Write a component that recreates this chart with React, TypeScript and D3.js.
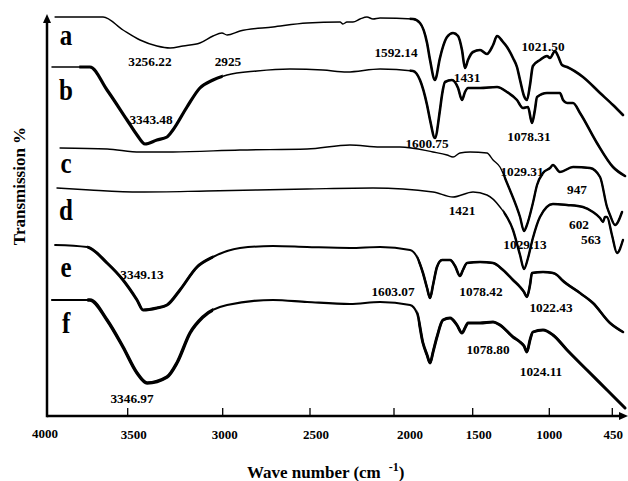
import React from 'react';
import * as d3 from 'd3';

// ---- axis (wavenumber, cm^-1) ----
const xTickValues = [4000, 3500, 3000, 2500, 2000, 1500, 1000, 450];
const xTickLabels = ['4000', '3500', '3000', '2500', '2000', '1500', '1000', '450'];

// ---- spectra: [wavenumber, transmission (a.u., stacked)] ----
const specA: [number, number][] = [[3950,399],[3653,399],[3529,386],[3435,376],[3346,370],[3277,368],[3209,370],[3120,373],[3051,380],[3004,383],[2975,381],[2901,385],[2712,389],[2517,393],[2321,394],[2304,392],[2280,394],[2244,394],[2202,397],[2161,399],[2125,397],[2083,398],[1879,397],[1835,393],[1790,373],[1771,356],[1740,336],[1708,358],[1695,366],[1663,379],[1625,383],[1593,380],[1568,366],[1549,348],[1530,356],[1498,364],[1452,366],[1407,362],[1367,371],[1341,380],[1302,374],[1276,369],[1237,358],[1211,349],[1191,336],[1165,320],[1146,316],[1126,331],[1107,350],[1061,356],[1015,360],[994,358],[950,365],[924,360],[889,351],[845,349],[706,339],[557,323],[444,311],[357,301]];
const specB: [number, number][] = [[3969,349],[3734,349],[3628,326],[3504,296],[3451,281],[3409,272],[3346,276],[3293,279],[3262,286],[3188,309],[3120,328],[3051,336],[2975,341],[2804,345],[2615,347],[2423,346],[2280,344],[2083,347],[1879,345],[1835,336],[1790,311],[1771,296],[1740,278],[1708,306],[1695,321],[1676,334],[1632,336],[1593,328],[1568,316],[1549,324],[1530,328],[1452,328],[1341,329],[1276,324],[1211,316],[1172,308],[1139,309],[1113,293],[1094,306],[1080,319],[1015,323],[907,323],[880,316],[845,313],[793,313],[732,303],[584,273],[444,249],[339,240]];
const specC: [number, number][] = [[3919,268],[3628,267],[3435,264],[3262,264],[2901,266],[2517,267],[2262,271],[2083,269],[1962,269],[1752,264],[1663,261],[1625,259],[1581,263],[1517,264],[1407,263],[1367,256],[1322,249],[1276,233],[1257,226],[1191,199],[1165,185],[1146,191],[1107,213],[1080,231],[1041,243],[994,248],[968,251],[907,244],[793,249],[645,248],[557,239],[496,209],[470,201],[426,191],[365,204]];
const specD: [number, number][] = [[3938,228],[3734,226],[3435,224],[3083,225],[2517,227],[2125,228],[1752,224],[1625,219],[1498,224],[1407,221],[1322,209],[1237,186],[1191,161],[1165,147],[1139,158],[1107,178],[1061,199],[968,212],[845,211],[706,209],[619,204],[557,198],[531,194],[514,199],[496,199],[453,181],[409,163],[357,176]];
const specE: [number, number][] = [[3950,171],[3752,169],[3628,153],[3529,136],[3451,116],[3419,106],[3346,108],[3293,111],[3225,126],[3135,149],[3051,159],[2901,168],[2712,170],[2517,169],[2262,168],[2083,169],[1898,166],[1854,159],[1816,143],[1790,128],[1771,118],[1752,131],[1727,149],[1695,156],[1644,156],[1612,150],[1581,140],[1562,146],[1536,153],[1452,154],[1367,153],[1302,146],[1237,136],[1191,129],[1165,124],[1146,119],[1126,131],[1113,143],[1041,144],[968,143],[933,141],[889,136],[732,123],[619,113],[470,93],[357,84]];
const specF: [number, number][] = [[3969,116],[3734,116],[3628,96],[3529,69],[3451,43],[3398,33],[3293,39],[3241,53],[3172,83],[3104,99],[2975,111],[2712,116],[2517,114],[2262,112],[2083,114],[1898,111],[1854,103],[1816,73],[1790,61],[1771,53],[1752,64],[1727,79],[1689,96],[1644,98],[1600,91],[1568,83],[1549,88],[1530,93],[1452,93],[1367,94],[1322,91],[1237,79],[1191,74],[1165,70],[1146,64],[1126,76],[1107,84],[1041,86],[968,81],[845,66],[671,46],[496,26],[339,8]];

const seriesNames = ['a', 'b', 'c', 'd', 'e', 'f'];
const seriesData = [specA, specB, specC, specD, specE, specF];
const seriesNameTrans = [371, 316, 243, 196, 139, 83];

// ---- peak annotations (anchored in data units) ----
const peakText = ['3256.22','2925','1592.14','1431','1021.50','3343.48','1600.75','1078.31','1029.31','947','1421','602','563','1029.13','3349.13','1603.07','1078.42','1022.43','1078.80','1024.11','3346.97'];
const peakWave = [3383,2970,1987,1536,1041,3377,1790,1133,1178,758,1568,741,636,1159,3425,2006,1446,985,1400,1054,3477];
const peakTrans = [350,350,359,334,365,292,268,275,240,222,201,187,172,167,137,120,120,104,62,40,13];

// ---- layout / style ----
const xTickPx = [47, 127.7, 222.7, 310, 394, 472.7, 549.3, 612.3];
const tickLabelNudge = [-2, 6, 2, 6, 16, 6, 0, 1];
const seriesBaseWidth = [1.4, 1.5, 1.4, 1.4, 2, 2.2];
// heavier stroke over wavenumber ranges: [from, to, width]
const seriesHeavy: [number, number, number][][] = [
  [[1900, 300, 2.6]],
  [[3800, 3000, 3.2], [1900, 300, 2.6]],
  [[1300, 300, 2.4]],
  [[1300, 300, 2.4]],
  [[3750, 3050, 3], [1850, 300, 2.6]],
  [[3750, 3050, 3.4], [1850, 300, 2.9]],
];
const FONT = '"Liberation Serif", "Times New Roman", serif';

export default function App() {
  const W = 628, H = 481;
  const x = d3.scaleLinear().domain(xTickValues).range(xTickPx);
  const y = d3.scaleLinear().domain([0, 400]).range([416, 16]);
  const line = d3.line<[number, number]>()
    .x(d => x(d[0]))
    .y(d => y(d[1]))
    .curve(d3.curveMonotoneX);

  const x0 = x(4000), y0 = y(0);
  const xEnd = 628, yTop = 14;

  return (
    <svg width={W} height={H} style={{ position: 'absolute', left: 0, top: 0, background: '#fff' }}
      fontFamily={FONT}>
      <defs>
        {seriesHeavy.map((ranges, i) => ranges.map((r, j) => (
          <clipPath key={`${i}-${j}`} id={`heavy-${i}-${j}`}>
            <rect x={x(r[0])} y={0} width={x(r[1]) - x(r[0])} height={H} />
          </clipPath>
        )))}
      </defs>
      {/* spectra */}
      {seriesData.map((s, i) => {
        const d = line(s) || '';
        return (
          <g key={i}>
            <path d={d} fill="none" stroke="#000" strokeWidth={seriesBaseWidth[i]}
              strokeLinejoin="round" strokeLinecap="round" />
            {seriesHeavy[i].map((r, j) => (
              <path key={j} d={d} fill="none" stroke="#000" strokeWidth={r[2]}
                strokeLinejoin="round" strokeLinecap="round" clipPath={`url(#heavy-${i}-${j})`} />
            ))}
          </g>
        );
      })}
      {/* series letters */}
      {seriesNames.map((n, i) => (
        <text key={n} transform={`translate(${x(3882)},${y(seriesNameTrans[i])}) scale(1,1.15)`}
          textAnchor="middle" fontSize={25} fontWeight="bold">{n}</text>
      ))}
      {/* peak labels */}
      {peakText.map((t, i) => (
        <text key={i} x={x(peakWave[i])} y={y(peakTrans[i])} textAnchor="middle" fontSize={13.3}
          fontWeight="bold">{t}</text>
      ))}
      {/* axes */}
      <line x1={x0} y1={y0} x2={xEnd - 7} y2={y0} stroke="#000" strokeWidth={2.5} />
      <path d={`M${xEnd},${y0} L${xEnd - 9},${y0 - 4} L${xEnd - 9},${y0 + 4} Z`} fill="#000" />
      <line x1={x0} y1={y0 + 1.2} x2={x0} y2={yTop + 6} stroke="#000" strokeWidth={2.5} />
      <path d={`M${x0},${yTop} L${x0 - 4},${yTop + 9} L${x0 + 4},${yTop + 9} Z`} fill="#000" />
      {xTickValues.map((v, i) => (
        <g key={v}>
          {i > 0 && <line x1={x(v)} x2={x(v)} y1={y0} y2={y0 - 8} stroke="#000" strokeWidth={1.3} />}
          <text x={x(v) + tickLabelNudge[i]} y={i === 0 ? 437.5 : 439} textAnchor="middle" fontSize={13}
            fontWeight="bold">{xTickLabels[i]}</text>
        </g>
      ))}
      {/* axis titles */}
      <text x={247} y={478} fontSize={17} fontWeight="bold">
        Wave number (cm
        <tspan dx={8} dy={-7} fontSize={12}>-1</tspan>
        <tspan dy={7}>)</tspan>
      </text>
      <text transform={`translate(25,186) rotate(-90)`} textAnchor="middle" fontSize={17}
        fontWeight="bold">Transmission %</text>
    </svg>
  );
}
